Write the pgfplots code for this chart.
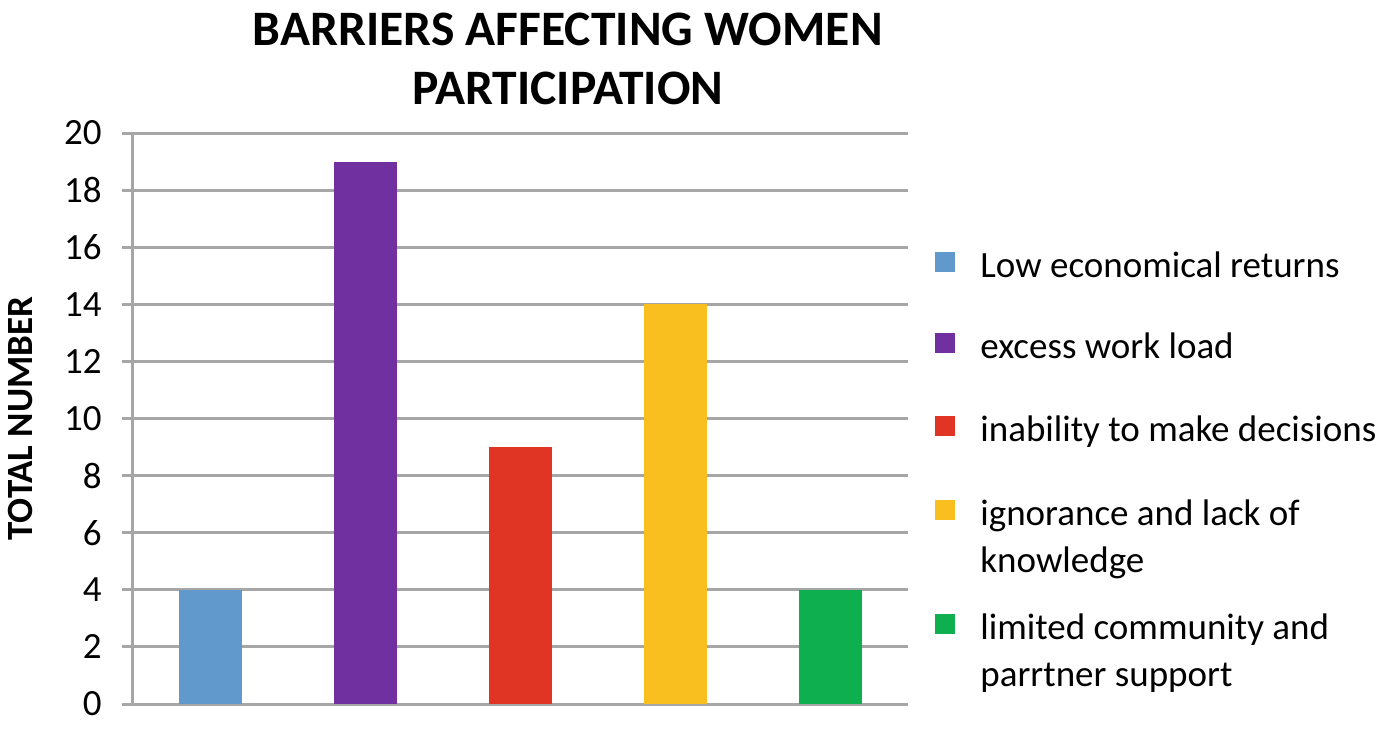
\documentclass[border=0pt]{standalone}
\usepackage{fontspec}
\setmainfont{Carlito}
\usepackage{pgfplots}
\pgfplotsset{compat=1.18}

\definecolor{cBlue}{HTML}{6199CC}
\definecolor{cPurple}{HTML}{7030A0}
\definecolor{cRed}{HTML}{E03424}
\definecolor{cYellow}{HTML}{F9BF1E}
\definecolor{cGreen}{HTML}{0EAF4E}
\definecolor{gridgray}{HTML}{A6A6A6}

% legend text box: fixed height 20pt, depth #1
\newcommand{\legtext}[2]{\raisebox{0pt}[20pt][#1]{\parbox[t]{250pt}{\raggedright #2}}}

\begin{document}
\begin{tikzpicture}
\useasboundingbox (-66.5pt,-12.5pt) rectangle (625.5pt,352pt);
\begin{axis}[
    scale only axis,
    width=387.5pt, height=285.5pt,
    ybar,
    bar width=31.5pt,
    xmin=0.5, xmax=5.5,
    ymin=0, ymax=20,
    ytick={0,2,...,20},
    xtick=\empty,
    axis x line*=bottom,
    axis y line*=left,
    axis line style={draw=gridgray, line width=1.5pt},
    ymajorgrids,
    grid style={draw=gridgray, line width=1.5pt},
    tick align=outside,
    major tick length=5.5pt,
    ytick style={draw=gridgray, line width=1.5pt},
    /pgf/number format/assume math mode=true,
    yticklabel style={font=\fontsize{18.5}{22}\selectfont, inner sep=0pt, xshift=-10pt},
    ylabel={TOTAL NUMBER},
    ylabel style={font=\fontsize{18.5}{22}\selectfont\bfseries,
        at={(axis description cs:-0.1303,0.5)}, anchor=base},
    title={BARRIERS AFFECTING WOMEN\\PARTICIPATION},
    title style={font=\fontsize{24.8}{29.5}\selectfont\bfseries, align=center,
        at={(axis description cs:0.561,1)}, anchor=south, inner sep=0pt, yshift=8pt},
    legend image code/.code={\fill[#1] (0pt,2.5pt) rectangle (10pt,12.5pt);},
    legend style={draw=none, fill=none, inner sep=0pt,
        font=\fontsize{18.5}{23.5}\selectfont,
        at={(1.0348,0.818)}, anchor=north west,
        row sep=0pt, column sep=12.5pt,
        cells={anchor=base west},
        nodes={inner sep=0pt, text depth={}}},
]
\addplot[fill=cBlue, draw=none, bar shift=0pt] coordinates {(1,4)};
\addlegendentry{\legtext{20.5pt}{Low economical returns}}
\addplot[fill=cPurple, draw=none, bar shift=0pt] coordinates {(2,19)};
\addlegendentry{\legtext{21.5pt}{excess work load}}
\addplot[fill=cRed, draw=none, bar shift=0pt] coordinates {(3,9)};
\addlegendentry{\legtext{22pt}{inability to make decisions}}
\addplot[fill=cYellow, draw=none, bar shift=0pt] coordinates {(4,14)};
\addlegendentry{\legtext{37pt}{ignorance and lack of\\knowledge}}
\addplot[fill=cGreen, draw=none, bar shift=0pt] coordinates {(5,4)};
\addlegendentry{\legtext{28pt}{limited community and\\parrtner support}}
\end{axis}
\end{tikzpicture}
\end{document}
